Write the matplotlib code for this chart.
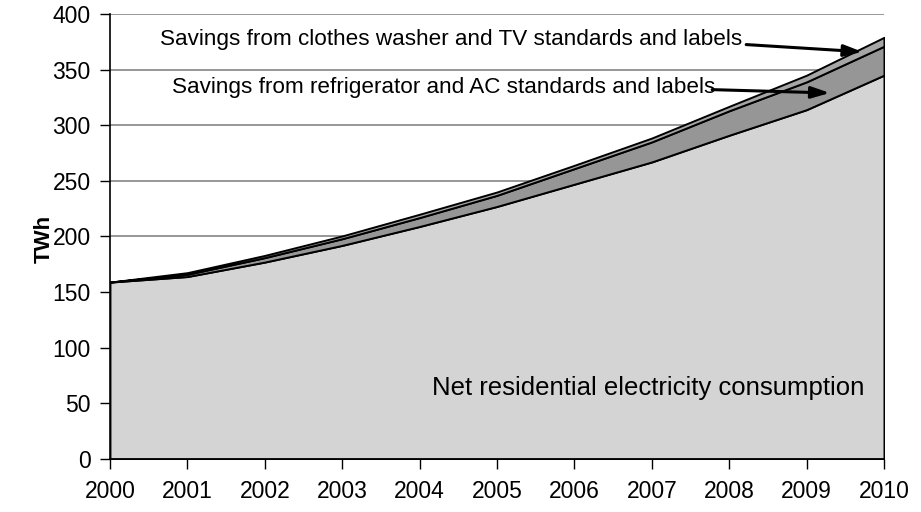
import matplotlib
matplotlib.use("Agg")
import matplotlib.pyplot as plt
import numpy as np

plt.rcParams['font.family'] = ['Liberation Sans', 'DejaVu Sans']

years = [2000, 2001, 2002, 2003, 2004, 2005, 2006, 2007, 2008, 2009, 2010]
net_consumption = [159, 164, 177, 192, 209, 227, 247, 267, 291, 314, 345]
fridge_ac_savings = [0, 2, 4, 6, 8, 10, 14, 18, 22, 25, 26]
washer_tv_savings = [0, 1.5, 2, 2.5, 3, 3, 3, 3.5, 4, 6, 8]
y_ticks = [0, 50, 100, 150, 200, 250, 300, 350, 400]

fig = plt.figure(figsize=(9.21, 5.12), dpi=100)
ax = fig.add_axes([0.1194, 0.1035, 0.8404, 0.8692])

ax.stackplot(years, net_consumption, fridge_ac_savings, washer_tv_savings,
             colors=['#d4d4d4', '#969696', '#a6a6a6'],
             edgecolor='black', linewidth=1.4, zorder=3)

ax.set_xlim(2000, 2010)
ax.set_ylim(0, 400)
ax.set_xticks(years)
ax.set_yticks(y_ticks)
ax.tick_params(axis='both', labelsize=16.5, direction='out', length=7,
               width=1, color='black', pad=7)
ax.tick_params(axis='x', pad=8)
ax.grid(axis='y', color='#7a7a7a', linewidth=1.1, zorder=1)
ax.set_axisbelow(True)
for side in ['top', 'right']:
    ax.spines[side].set_visible(False)
ax.spines['left'].set_linewidth(1.2)
ax.spines['bottom'].set_linewidth(1.2)
ax.spines['left'].set_zorder(4)
ax.spines['bottom'].set_zorder(4)

ax.set_ylabel('TWh', fontsize=16, fontweight='bold')
ax.yaxis.set_label_coords(-0.071, 0.494)

ax.text(2000.65, 377, 'Savings from clothes washer and TV standards and labels',
        fontsize=16.2, va='center', ha='left', zorder=5)
ax.annotate('', xy=(2009.72, 366), xytext=(2008.22, 372.5),
            arrowprops=dict(arrowstyle='-|>,head_length=1.1,head_width=0.35',
                            color='black', lw=2.2, shrinkA=0, shrinkB=0),
            zorder=5)

ax.text(2000.8, 334, 'Savings from refrigerator and AC standards and labels',
        fontsize=16.2, va='center', ha='left', zorder=5)
ax.annotate('', xy=(2009.3, 329), xytext=(2007.78, 332),
            arrowprops=dict(arrowstyle='-|>,head_length=1.1,head_width=0.35',
                            color='black', lw=2.2, shrinkA=0, shrinkB=0),
            zorder=5)

ax.text(2009.75, 64, 'Net residential electricity consumption',
        fontsize=18.5, va='center', ha='right', zorder=5)

fig.savefig('out.png', dpi=100)
